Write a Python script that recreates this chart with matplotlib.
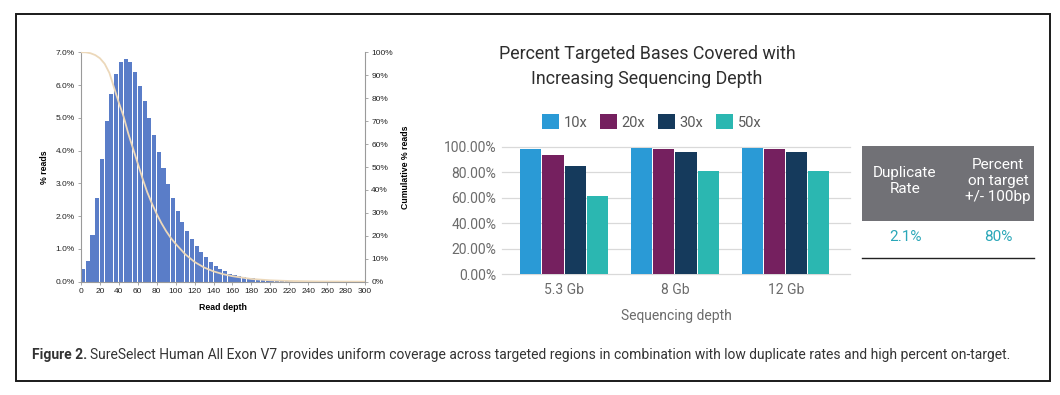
import numpy as np
import matplotlib
matplotlib.use('Agg')
import matplotlib.pyplot as plt
from matplotlib.patches import Rectangle
from matplotlib.ticker import FuncFormatter

# --- left panel: read depth histogram (bin width 5) ---
depth_bins = np.arange(0, 300, 5)
pct_reads = [0.38, 0.64, 1.41, 2.55, 3.75, 4.90, 5.72, 6.34, 6.71, 6.80,
             6.70, 6.39, 5.97, 5.52, 5.00, 4.47, 3.97, 3.48, 2.99, 2.55,
             2.15, 1.83, 1.55, 1.29, 1.09, 0.90, 0.74, 0.60, 0.49, 0.39,
             0.32, 0.25, 0.21, 0.17, 0.14, 0.12, 0.10, 0.08, 0.07, 0.06,
             0.05, 0.04, 0.04, 0.03, 0.03, 0.02, 0.02, 0.02, 0.015, 0.01,
             0.01, 0.01, 0.0, 0.0, 0.0, 0.0, 0.0, 0.0, 0.0, 0.0]
cum_depth = [0, 5, 10, 15, 20, 25, 30, 35, 40, 45, 50, 55, 60, 65, 70, 75, 80,
             85, 90, 95, 100, 110, 120, 130, 140, 150, 160, 180, 200, 220, 250, 300]
cum_pct = [100, 100, 99.6, 98.8, 97.4, 95, 91, 84.5, 78, 72, 64.5, 58, 51.5, 45,
           39, 34, 29.5, 25.5, 22, 19, 16.5, 12, 8.6, 6.2, 4.5, 3.3, 2.4, 1.2,
           0.6, 0.3, 0.1, 0]

# --- right panel: coverage by sequencing depth ---
seq_depths = ['5.3 Gb', '8 Gb', '12 Gb']
coverage = {
    '10x': [0.982, 0.990, 0.990],
    '20x': [0.935, 0.982, 0.982],
    '30x': [0.849, 0.958, 0.958],
    '50x': [0.614, 0.809, 0.809],
}
cov_colors = ['#2a9ad6', '#75205f', '#153a5c', '#2bb7b1']

table_headers = ['Duplicate\nRate', 'Percent\non target\n+/- 100bp']
table_values = ['2.1%', '80%']

W, H = 1060, 395
fig = plt.figure(figsize=(W / 100, H / 100), dpi=100)


def px_axes(x0, y0, x1, y1):
    # pixel box (top-left origin) -> axes
    return fig.add_axes([x0 / W, 1 - y1 / H, (x1 - x0) / W, (y1 - y0) / H])


# outer frame
fig.patches.append(Rectangle((16 / W, 1 - 381 / H), (1050 - 16) / W, (381 - 14) / H,
                             transform=fig.transFigure, fill=False, lw=1.4,
                             edgecolor='#1a1a1a'))

# histogram
ax1 = px_axes(81, 52.3, 365, 281.7)
ax1.bar(depth_bins, pct_reads, width=4.3, align='edge', color='#5a7dc8',
        edgecolor='none')
ax1.set_xlim(0, 300)
ax1.set_ylim(0, 7)
ax1.set_xticks(np.arange(0, 301, 20))
ax1.set_yticks(np.arange(0, 7.01, 1))
ax1.yaxis.set_major_formatter(FuncFormatter(lambda v, p: f'{v:.1f}%'))
for s in ['top', 'right']:
    ax1.spines[s].set_visible(False)
for s in ['left', 'bottom']:
    ax1.spines[s].set_color('#9a9a9a')
    ax1.spines[s].set_linewidth(0.8)
ax1.tick_params(labelsize=6, length=2.5, width=0.6, color='#9a9a9a',
                labelcolor='#222222', pad=2)
for lab in ax1.get_xticklabels() + ax1.get_yticklabels():
    lab.set_family('Liberation Sans')
ax1.set_xlabel('Read depth', fontsize=6.3, fontweight='bold',
               family='Liberation Sans', labelpad=6)
ax1.set_ylabel('% reads', fontsize=6.3, fontweight='bold',
               family='Liberation Sans', labelpad=5)

ax1b = ax1.twinx()
ax1b.plot(cum_depth, cum_pct, color='#ecd8ba', lw=1.3)
ax1b.set_ylim(0, 100)
ax1b.set_yticks(np.arange(0, 101, 10))
ax1b.yaxis.set_major_formatter(FuncFormatter(lambda v, p: f'{v:.0f}%'))
for s in ['top', 'left', 'bottom']:
    ax1b.spines[s].set_visible(False)
ax1b.spines['right'].set_color('#9a9a9a')
ax1b.spines['right'].set_linewidth(0.8)
ax1b.tick_params(labelsize=6, length=2.5, width=0.6, color='#9a9a9a',
                 labelcolor='#222222', pad=2)
for lab in ax1b.get_yticklabels():
    lab.set_family('Liberation Sans')
ax1b.set_ylabel('Cumulative % reads', fontsize=6.3, fontweight='bold',
                family='Liberation Sans', labelpad=6)

# coverage bar chart
ax2 = px_axes(502, 146.7, 850, 274.3)
x = np.arange(len(seq_depths))
bw = 0.2
for i, (name, vals) in enumerate(coverage.items()):
    ax2.bar(x + (i - 1.5) * bw, vals, bw * 0.95, color=cov_colors[i], label=name,
            zorder=3)
ax2.set_xlim(-0.56, 2.58)
ax2.set_ylim(0, 1.0)
ax2.set_yticks(np.arange(0, 1.01, 0.2))
ax2.yaxis.set_major_formatter(FuncFormatter(lambda v, p: f'{v * 100:.2f}%'))
ax2.set_xticks(x)
ax2.set_xticklabels(seq_depths)
for s in ax2.spines.values():
    s.set_visible(False)
ax2.grid(axis='y', color='#d9d9d9', lw=0.9, zorder=0)
for gl in ax2.get_ygridlines():
    gl.set_clip_on(False)
ax2.tick_params(length=0, labelsize=10, labelcolor='#6b6b6b', pad=4)
ax2.tick_params(axis='x', pad=6)
for lab in ax2.get_xticklabels() + ax2.get_yticklabels():
    lab.set_family('Roboto')
ax2.set_xlabel('Sequencing depth', fontsize=10, color='#6b6b6b',
               family='Roboto', labelpad=9)

leg = ax2.legend(loc='lower center', bbox_to_anchor=(0.43, 1.03), ncol=4,
                 frameon=False, handlelength=1.2, handleheight=1.2,
                 handletextpad=0.3, columnspacing=0.85,
                 prop={'family': 'Roboto', 'size': 10.5})
for t in leg.get_texts():
    t.set_color('#5a5a5a')

fig.text(647 / W, 1 - 54 / H, 'Percent Targeted Bases Covered with',
         ha='center', va='center', fontsize=12.9, family='Roboto', color='#2e2e2e')
fig.text(647 / W, 1 - 79 / H, 'Increasing Sequencing Depth',
         ha='center', va='center', fontsize=12.9, family='Roboto', color='#2e2e2e')

# side table
fig.patches.append(Rectangle((862 / W, 1 - 220.7 / H), (1034 - 862) / W,
                             (220.7 - 146) / H, transform=fig.transFigure,
                             color='#717176', lw=0))
col_x = [905, 998]
for cx, head, val in zip(col_x, table_headers, table_values):
    fig.text(cx / W, 1 - 181 / H, head, ha='center', va='center',
             fontsize=11, family='Roboto', color='white', linespacing=1.22)
    fig.text(cx / W, 1 - 237 / H, val, ha='center', va='center',
             fontsize=11, family='Roboto', color='#2aa7b8')
fig.add_artist(plt.Line2D([862 / W, 1034 / W], [1 - 258 / H, 1 - 258 / H],
                          transform=fig.transFigure, color='#222222', lw=1))

# caption
cap = fig.text(32 / W, 1 - 355 / H, 'Figure 2.', ha='left', va='center',
               fontsize=10, family='Roboto', fontweight='bold', color='#333333')
fig.canvas.draw()
bb = cap.get_window_extent()
fig.text((bb.x1 + 3) / W, 1 - 355 / H,
         'SureSelect Human All Exon V7 provides uniform coverage across targeted '
         'regions in combination with low duplicate rates and high percent on-target.',
         ha='left', va='center', fontsize=10, family='Roboto', color='#333333')

fig.savefig('out.png', dpi=100)
